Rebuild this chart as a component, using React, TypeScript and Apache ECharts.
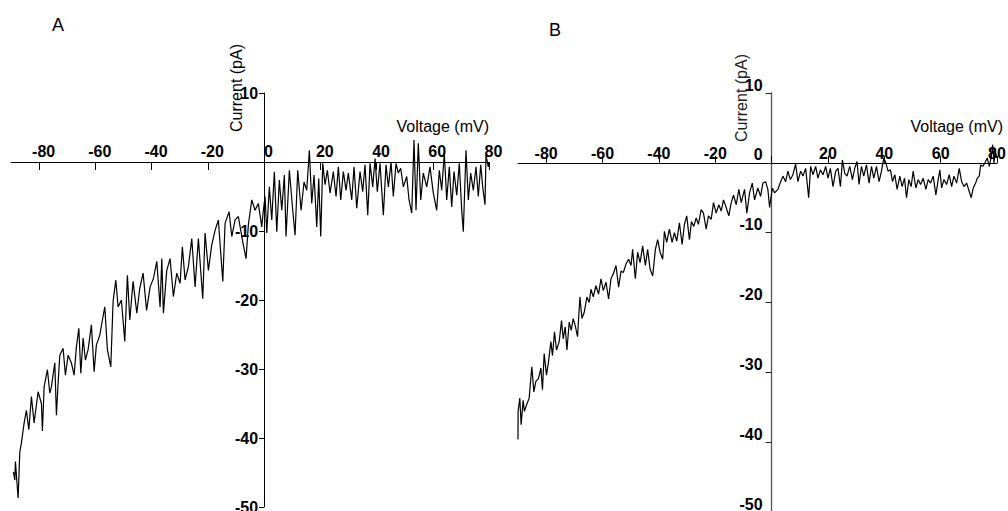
import React, { useEffect, useRef } from "react";
import * as echarts from "echarts";

// ---------- data ----------
const xTickValues = [-80, -60, -40, -20, 0, 20, 40, 60, 80];
const xRange = [-90, 80];
const yRange = [-50, 10];

const voltA = [-89.14,-88.64,-88.43,-87.47,-86.86,-86.29,-85.33,-84.52,-83.66,-82.74,-81.78,-80.36,-79.18,-78.83,-78.22,-77.05,-76.2,-75.63,-74.42,-73.85,-73.24,-72.64,-71.47,-70.65,-69.69,-68.52,-67.56,-66.74,-65.88,-65.17,-64.36,-63.54,-62.58,-61.4,-60.44,-59.63,-58.42,-57.49,-56.64,-55.72,-54.51,-53.69,-52.73,-51.91,-50.74,-49.53,-48.6,-47.75,-46.58,-45.26,-44.2,-43.02,-41.78,-40.53,-39.36,-38.15,-36.98,-36.37,-35.8,-34.6,-33.42,-32.25,-31.04,-29.87,-29.05,-28.09,-26.92,-25.71,-24.53,-23.36,-21.8,-20.98,-19.8,-18.6,-17.42,-16.25,-14.68,-13.87,-12.44,-11.48,-10.31,-9.14,-7.57,-6.4,-5.58,-4.37,-3.2,-2.03,-0.82,-0.25,0.36,0.96,1.88,2.74,3.66,4.52,5.44,6.29,7.22,7.82,9,10.2,11.02,11.98,13.16,14.22,15.18,16.11,16.96,17.78,18.74,19.45,20.16,20.87,21.69,22.51,23.47,24.64,25.6,26.42,27.27,28.2,29.16,29.97,31.18,32,32.96,34.13,35.09,35.91,36.87,37.69,38.65,39.47,40.28,41.24,42.42,43.38,44.2,45.16,45.97,46.93,47.75,48.6,49.53,50.74,51.56,52.52,53.33,54.04,54.86,55.72,56.64,57.85,59.02,60.2,61.4,62.33,63.18,64.11,64.96,65.88,66.74,67.56,68.52,69.44,70.29,70.86,71.82,72.64,73.49,74.42,75.38,76.2,77.05,77.76,78.58,78.93,79.75,80];
const currA = [-44.9,-46.1,-43.4,-48.7,-42,-40.7,-37.8,-36,-38.8,-34,-37.8,-33.3,-35,-39,-32.6,-30.1,-33.5,-32.6,-29.1,-36.7,-32,-28,-27,-30.9,-28,-29.1,-30.9,-26.8,-24.1,-30.6,-25.5,-28.7,-27.2,-23.6,-30.4,-26.5,-25.1,-22.9,-21,-27.2,-29.7,-20.2,-17.1,-21,-20,-26,-16.4,-22.9,-17.3,-21.9,-18.3,-16.1,-21.5,-18.1,-16.9,-14.4,-21,-14,-21.9,-15.7,-14,-19.5,-16.1,-17.6,-12.3,-17.1,-15.2,-11.1,-18.1,-11.1,-19.8,-10.3,-15.7,-12,-9.9,-8.4,-17.3,-8.9,-7.2,-10.8,-8.4,-7.9,-11.6,-14,-9.1,-5.5,-7,-6,-9.4,-7,-5,-10.3,-3.6,-8.4,-1.4,-10.1,-2.6,-7,-1.9,-10.8,-1.2,-7,-10.6,-1.2,-7,-2.9,-4.1,1.7,-6,-1.9,-9.4,-2.4,-10.8,-0.2,-3.3,-1.2,-4.5,-1.4,-5,-0.7,-5.5,-1.4,-4.1,-1.6,-5.5,-0.7,-6.7,-1.4,-4.3,-0.4,-7.7,-0.2,-3.6,0.5,-4.3,-0.2,-7.7,-0.4,-3.6,0,-5,-0.2,-1.6,-0.9,-3.6,-2.1,-5.5,-7.4,3.2,-7,2.7,-5.5,-1.6,-3.6,-0.7,-4.5,-7,-1.2,-4.1,1.3,-5.5,-0.7,-6.5,-1.4,-4.8,-0.2,-7,-10.1,1.7,-5.5,-1.6,-4.1,-0.7,-5,-0.4,-3.6,-6.2,1,-0.7,0];

const voltB = [-90,-89.96,-89.35,-88.89,-88.18,-87.72,-87,-86.04,-85.09,-84.37,-83.66,-82.74,-81.88,-81.32,-80.71,-79.89,-79.18,-78.33,-77.76,-77.05,-76.34,-75.38,-74.56,-73.96,-73.24,-72.64,-71.82,-71.11,-70.4,-69.69,-68.87,-68.02,-67.31,-66.49,-65.53,-64.71,-64.11,-63.29,-62.33,-61.4,-60.55,-59.73,-58.77,-57.85,-57,-56.18,-55.22,-54.29,-53.44,-52.62,-51.66,-50.74,-49.88,-49.32,-48.36,-47.54,-46.68,-45.76,-44.8,-43.98,-43.13,-42.2,-41.24,-40.43,-39.57,-38.65,-38.04,-37.23,-36.27,-35.31,-34.49,-33.67,-32.71,-31.75,-30.93,-30.12,-29.16,-28.44,-27.63,-26.77,-25.96,-25,-24.18,-23.22,-22.4,-21.44,-20.62,-19.66,-18.74,-17.88,-17.07,-16.11,-15.18,-14.33,-13.51,-12.55,-11.63,-10.77,-9.6,-8.78,-7.82,-6.86,-6.04,-4.87,-3.91,-3.09,-2.13,-1.32,-0.71,0.25,1.07,2.24,2.84,4.02,4.98,5.8,6.65,7.57,8.53,9.35,10.31,11.13,12.09,13.16,13.87,14.68,15.64,16.46,17.32,18.24,19.2,20.02,20.87,21.8,22.76,23.57,24.43,25.14,25.96,26.77,27.73,28.69,29.51,30.33,31.04,31.89,32.71,33.67,34.6,35.45,36.27,37.23,38.15,39,39.82,40.53,41.35,42.2,42.92,43.73,44.55,45.51,46.33,47.18,47.89,48.71,49.53,50.24,51.2,52.02,52.87,53.8,54.76,55.57,56.43,57.35,58.31,59.13,59.73,60.34,61.16,62.12,63.04,63.89,64.71,65.67,66.6,67.45,68.27,69.23,70.15,70.86,71.57,72.43,73,73.71,74.2,74.92,75.73,76.55,77.26,77.97,78.47,78.93,79.4,79.89];
const currB = [-39.6,-35.6,-33.7,-37.5,-34,-35.6,-34.7,-33.7,-29.2,-32.8,-31.3,-30.9,-29.4,-32.5,-27.3,-30.4,-28.5,-25.6,-27.6,-24.2,-26.8,-25.6,-22.6,-25.2,-23.5,-26.8,-22.8,-24,-22.3,-23.3,-24.9,-19.2,-22.3,-21.4,-19.2,-20,-18.1,-19.2,-17.6,-18.8,-16.6,-18.3,-17.1,-19.5,-16.6,-15.9,-14.7,-17.8,-15.5,-15.7,-14.5,-13.8,-14.7,-12.4,-16.6,-12.8,-14.3,-11.9,-14.7,-12.4,-15.2,-16.2,-12.4,-11,-12.8,-13.8,-9.8,-11.4,-9.5,-11.4,-10,-11.2,-8.6,-11.7,-8.8,-7.6,-11,-8.4,-9.1,-7.9,-8.8,-6.7,-7.2,-9.5,-7.6,-8.1,-5.7,-7.2,-6,-6.9,-5.3,-6.4,-7.6,-5.7,-4.6,-6,-3.8,-5.7,-3.8,-7.2,-4.3,-2.9,-5.3,-3.6,-4.8,-2.9,-2.7,-3.8,-6.4,-3.6,-4.3,-3.8,-3.1,-1.9,-2.7,-1.2,-2.4,-1.7,-0.2,-2.7,-1.2,-1.9,-0.8,-5,-0.5,-1.7,-0.5,-2.2,-1,-1.7,-0.5,-2.2,-0.8,-3.4,-1.2,-0.8,-3.4,0.4,-1.5,-1.9,-0.5,-2.4,-0.8,0.2,-3.1,-0.5,-1.9,-0.3,-2.9,-0.5,-2.2,-0.5,-2.7,-1.2,0.7,0,-1.2,-1,-2.7,-1.7,-3.8,-1.9,-3.4,-2.2,-5,-2.4,-3.4,-1.2,-3.6,-2.4,-3.1,-2.2,-3.8,-2.4,-2.9,-1.9,-4.6,-2.4,-1,-3.6,-2.4,-3.1,-1.7,-3.4,-1.9,-2.9,-0.8,-2.7,-3.4,-2.9,-4.1,-5,-3.6,-2.9,-2.2,-1.9,-0.3,-0.5,0,0.7,-0.5,0.9,2.6,0,1.8,0.7];

const panelLabels = ["A", "B"];
const xAxisName = "Voltage (mV)";
const yAxisName = "Current (pA)";

const TICK_FONT = '"Liberation Sans Narrow", "Arial Narrow", "Liberation Sans", Arial, sans-serif';
const TEXT_FONT = '"Liberation Sans", Arial, sans-serif';

// grid boxes (layout)
const gridA = { left: 11, top: 93, width: 478, height: 414 };
const gridB = { left: 518, top: 93, width: 479, height: 419 };

function pairs(xs: number[], ys: number[]) {
  return xs.map((x, i) => [x, ys[i]]);
}
// distance from the grid edge to the zero line, from the axis ranges
function zeroFromLeft(g: { width: number }) {
  return ((0 - xRange[0]) / (xRange[1] - xRange[0])) * g.width;
}
function zeroFromBottom(g: { height: number }) {
  return ((0 - yRange[0]) / (yRange[1] - yRange[0])) * g.height;
}

export default function App() {
  const ref = useRef<HTMLDivElement>(null);

  useEffect(() => {
    if (!ref.current) return;
    const chart = echarts.init(ref.current, undefined, { renderer: "svg" });

    const tickLabelStyle = {
      fontFamily: TICK_FONT,
      fontWeight: "bold" as const,
      fontSize: 16,
      color: "#000",
    };

    const option: any = {
      animation: false,
      grid: [
        { ...gridA, outerBoundsMode: "none", containLabel: false },
        { ...gridB, outerBoundsMode: "none", containLabel: false },
      ],
      xAxis: [
        {
          gridIndex: 0,
          type: "value",
          min: xRange[0],
          max: xRange[1],
          position: "bottom",
          offset: -zeroFromBottom(gridA),
          splitLine: { show: false },
          axisLine: { onZero: false, lineStyle: { color: "#000", width: 1 } },
          axisTick: { customValues: xTickValues, length: 8, lineStyle: { color: "#000" } },
          axisLabel: {
            ...tickLabelStyle,
            customValues: xTickValues,
            inside: true,
            margin: 3,
            padding: [0, 0, 0, 9],
            hideOverlap: false,
          },
        },
        {
          gridIndex: 1,
          type: "value",
          min: xRange[0],
          max: xRange[1],
          position: "bottom",
          offset: -zeroFromBottom(gridB),
          splitLine: { show: false },
          axisLine: { onZero: false, lineStyle: { color: "#000", width: 1 } },
          axisTick: { customValues: xTickValues, inside: true, length: 7, lineStyle: { color: "#000" } },
          axisLabel: {
            ...tickLabelStyle,
            customValues: xTickValues,
            inside: true,
            margin: 1,
            hideOverlap: false,
            formatter: (v: number) => (v === 0 ? "" : String(v)),
          },
        },
      ],
      yAxis: [
        {
          gridIndex: 0,
          type: "value",
          min: yRange[0],
          max: yRange[1],
          interval: 10,
          position: "left",
          offset: -zeroFromLeft(gridA),
          splitLine: { show: false },
          axisLine: { onZero: false, lineStyle: { color: "#000", width: 1 } },
          axisTick: { length: 5, lineStyle: { color: "#000" } },
          axisLabel: {
            ...tickLabelStyle,
            margin: 6,
            hideOverlap: false,
            formatter: (v: number) => (v === 0 ? "" : String(v)),
          },
        },
        {
          gridIndex: 1,
          type: "value",
          min: yRange[0],
          max: yRange[1],
          interval: 10,
          position: "left",
          offset: -zeroFromLeft(gridB),
          splitLine: { show: false },
          axisLine: { onZero: false, lineStyle: { color: "#555", width: 1.3 } },
          axisTick: { length: 6, lineStyle: { color: "#222" } },
          axisLabel: {
            ...tickLabelStyle,
            margin: 9,
            hideOverlap: false,
            verticalAlign: "bottom",
          },
        },
      ],
      series: [
        {
          type: "line",
          xAxisIndex: 0,
          yAxisIndex: 0,
          data: pairs(voltA, currA),
          showSymbol: false,
          lineStyle: { color: "#000", width: 1.2 },
          silent: true,
        },
        {
          type: "line",
          xAxisIndex: 1,
          yAxisIndex: 1,
          data: pairs(voltB, currB),
          showSymbol: false,
          lineStyle: { color: "#000", width: 1.2 },
          silent: true,
        },
      ],
      graphic: [
        { type: "text", x: 52, y: 16, style: { text: panelLabels[0], fontFamily: TEXT_FONT, fontSize: 18, fill: "#000" } },
        { type: "text", x: 549, y: 21, style: { text: panelLabels[1], fontFamily: TEXT_FONT, fontSize: 18, fill: "#000" } },
        { type: "text", x: 489, y: 126, style: { text: xAxisName, fontFamily: TEXT_FONT, fontSize: 16, fill: "#000", align: "right", verticalAlign: "middle" } },
        { type: "text", x: 1003, y: 126, style: { text: xAxisName, fontFamily: TEXT_FONT, fontSize: 16, fill: "#000", align: "right", verticalAlign: "middle" } },
        { type: "text", x: 236, y: 88, rotation: Math.PI / 2, style: { text: yAxisName, fontFamily: TEXT_FONT, fontSize: 16, fill: "#000", align: "center", verticalAlign: "middle" } },
        { type: "text", x: 741, y: 98, rotation: Math.PI / 2, style: { text: yAxisName, fontFamily: TEXT_FONT, fontSize: 16, fill: "#222", align: "center", verticalAlign: "middle" } },
      ],
    };

    chart.setOption(option);
    return () => chart.dispose();
  }, []);

  return (
    <div
      ref={ref}
      style={{ position: "fixed", left: 0, top: 0, width: 1008, height: 511, background: "#fff" }}
    />
  );
}
